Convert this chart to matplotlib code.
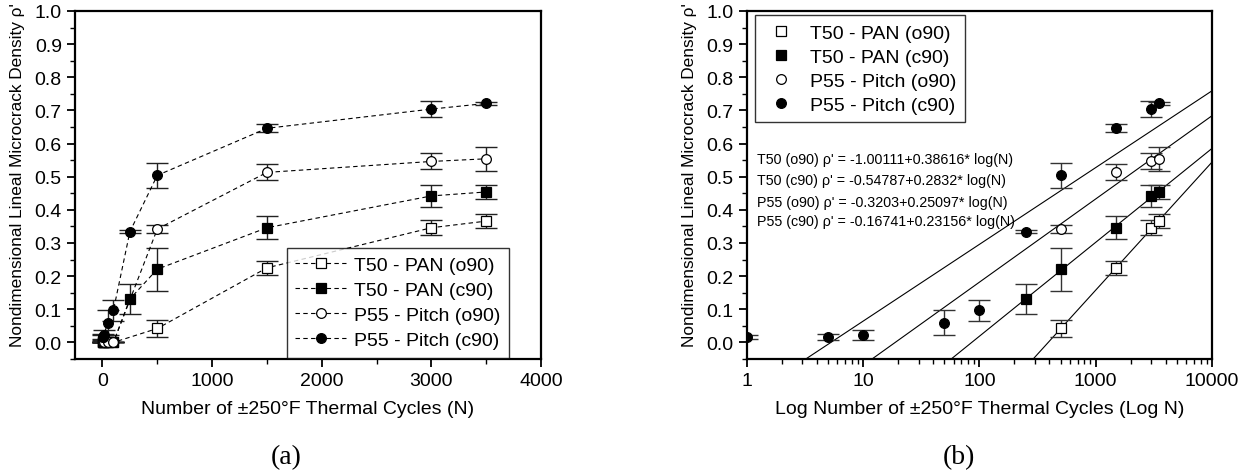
import numpy as np
import matplotlib
matplotlib.use("Agg")
from matplotlib import pyplot as plt
from matplotlib.ticker import MultipleLocator, LogLocator, NullFormatter, FixedLocator

plt.rcParams['font.family'] = ['Liberation Sans', 'DejaVu Sans']

# Data (N = thermal cycles, rho' = crack density)
t50_o90_n = [1, 5, 10, 50, 100, 500, 1500, 3000, 3500]
t50_o90 = [0, 0, 0, 0, 0, 0.042, 0.225, 0.346, 0.366]
t50_o90_err = [0, 0, 0, 0, 0, 0.027, 0.022, 0.023, 0.022]

t50_c90_n = [1, 5, 10, 50, 100, 250, 500, 1500, 3000, 3500]
t50_c90 = [0, 0, 0, 0, 0, 0.131, 0.221, 0.346, 0.442, 0.454]
t50_c90_err = [0, 0, 0, 0, 0, 0.045, 0.065, 0.034, 0.033, 0.02]

p55_o90_n = [1, 5, 10, 50, 100, 500, 1500, 3000, 3500]
p55_o90 = [0, 0, 0, 0, 0, 0.342, 0.513, 0.546, 0.554]
p55_o90_err = [0, 0, 0, 0, 0, 0.012, 0.024, 0.024, 0.036]

p55_c90_n = [1, 5, 10, 50, 100, 250, 500, 1500, 3000, 3500]
p55_c90 = [0.016, 0.016, 0.022, 0.059, 0.097, 0.334, 0.504, 0.646, 0.704, 0.721]
p55_c90_err = [0.005, 0.008, 0.015, 0.038, 0.031, 0.005, 0.037, 0.012, 0.025, 0.005]

labels = ['T50 - PAN (o90)', 'T50 - PAN (c90)', 'P55 - Pitch (o90)', 'P55 - Pitch (c90)']
markers = ['s', 's', 'o', 'o']
faces = ['white', 'black', 'white', 'black']

# linear fits rho' = a + b*log10(N)
fit_names = ['T50 (o90)', 'T50 (c90)', 'P55 (o90)', 'P55 (c90)']
fit_a = [-1.00111, -0.54787, -0.3203, -0.16741]
fit_b = [0.38616, 0.2832, 0.25097, 0.23156]
fit_b_text = ['0.38616', '0.2832', '0.25097', '0.23156']

series = [
    (t50_o90_n, t50_o90, t50_o90_err),
    (t50_c90_n, t50_c90, t50_c90_err),
    (p55_o90_n, p55_o90, p55_o90_err),
    (p55_c90_n, p55_c90, p55_c90_err),
]

fig = plt.figure(figsize=(12.51, 4.77), dpi=100)
ax1 = fig.add_axes([0.060, 0.2453, 0.3725, 0.7296])
ax2 = fig.add_axes([0.597, 0.2453, 0.3717, 0.7296])

ylabel = "Nondimensional Lineal Microcrack Density \u03c1'"

# ---- (a) linear axis ----
for (n, v, e), lab, m, fc in zip(series, labels, markers, faces):
    ax1.errorbar(n, v, yerr=e, fmt='none', ecolor='#222222', elinewidth=1.0,
                 capsize=8, capthick=1.0, zorder=2)
    ax1.plot(n, v, linestyle=(0, (4, 3)), color='black', linewidth=0.8,
             marker=m, markersize=7, markerfacecolor=fc,
             markeredgecolor='black', markeredgewidth=0.9, label=lab, zorder=3)

ax1.set_xlim(-250, 4000)
ax1.set_ylim(-0.05, 1.0)
ax1.xaxis.set_major_locator(MultipleLocator(1000))
ax1.xaxis.set_minor_locator(MultipleLocator(500))
ax1.set_xlabel('Number of \u00b1250\u00b0F Thermal Cycles (N)', fontsize=14, labelpad=8)
leg1 = ax1.legend(loc='lower right', bbox_to_anchor=(0.931, 0.003), fontsize=14,
                  frameon=True, fancybox=False, edgecolor='black',
                  handlelength=2.6, handletextpad=0.4, borderpad=0.45,
                  labelspacing=0.38, borderaxespad=0.0)
leg1.get_frame().set_linewidth(1.0)

# ---- (b) log axis ----
for (n, v, e), lab, m, fc in zip(series, labels, markers, faces):
    n = np.array(n, dtype=float)
    v = np.array(v)
    e = np.array(e)
    keep = v > 0
    ax2.errorbar(n[keep], v[keep], yerr=e[keep], fmt='none', ecolor='#333333',
                 elinewidth=1.0, capsize=8, capthick=1.0, zorder=2)
    ax2.plot(n[keep], v[keep], linestyle='none', marker=m, markersize=7,
             markerfacecolor=fc, markeredgecolor='black', markeredgewidth=0.9,
             label=lab, zorder=3)

nn = np.logspace(0, 4, 200)
for a, b in zip(fit_a, fit_b):
    ax2.plot(nn, a + b * np.log10(nn), color='black', linewidth=0.8, zorder=1)

ax2.set_xscale('log')
ax2.set_xlim(1, 10000)
ax2.set_ylim(-0.05, 1.0)
ax2.xaxis.set_major_locator(FixedLocator([1, 10, 100, 1000, 10000]))
ax2.set_xticklabels(['1', '10', '100', '1000', '10000'])
ax2.xaxis.set_minor_locator(LogLocator(base=10, subs=np.arange(2, 10), numticks=20))
ax2.xaxis.set_minor_formatter(NullFormatter())
ax2.set_xlabel('Log Number of \u00b1250\u00b0F Thermal Cycles (Log N)', fontsize=14, labelpad=8)
leg2 = ax2.legend(loc='upper left', bbox_to_anchor=(0.017, 0.988), fontsize=14,
                  frameon=True, fancybox=False, edgecolor='black',
                  handlelength=1.8, handletextpad=0.6, borderpad=0.45,
                  labelspacing=0.33, borderaxespad=0.0)
leg2.get_frame().set_linewidth(1.0)

eq_y = [0.554, 0.491, 0.425, 0.365]
for name, a, bt, yy in zip(fit_names, fit_a, fit_b_text, eq_y):
    txt = "%s \u03c1' = %s+%s* log(N)" % (name, ('%g' % a), bt)
    ax2.text(1.22, yy, txt, fontsize=10.3, va='center', ha='left')

for ax in (ax1, ax2):
    ax.set_ylabel(ylabel, fontsize=12.4)
    ax.yaxis.set_label_coords(-0.108, 0.532)
    ax.yaxis.set_major_locator(MultipleLocator(0.1))
    ax.yaxis.set_minor_locator(MultipleLocator(0.05))
    ax.yaxis.set_major_formatter(matplotlib.ticker.FormatStrFormatter('%.1f'))
    ax.tick_params(which='major', direction='out', length=6, width=1.3,
                   labelsize=14, top=False, right=False)
    ax.tick_params(which='minor', direction='out', length=3.5, width=1.0,
                   top=False, right=False)
    for sp in ax.spines.values():
        sp.set_linewidth(1.6)

fig.text(0.229, 0.040, '(a)', fontsize=20, family='Liberation Serif', ha='center', va='center')
fig.text(0.7666, 0.040, '(b)', fontsize=20, family='Liberation Serif', ha='center', va='center')

fig.savefig('out.png', dpi=100)
